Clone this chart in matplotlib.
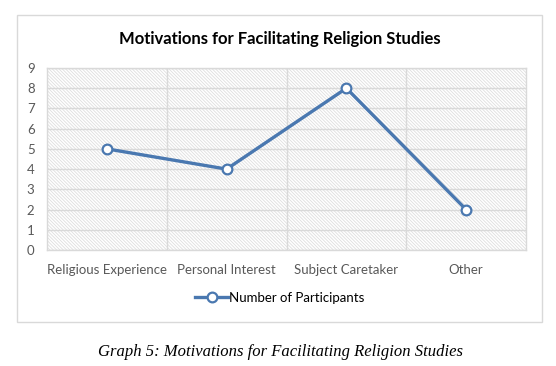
import matplotlib
matplotlib.use('Agg')
import matplotlib.pyplot as plt
from matplotlib.patches import Rectangle

categories = ['Religious Experience', 'Personal Interest', 'Subject Caretaker', 'Other']
participants = [5, 4, 8, 2]
y_ticks = list(range(0, 10))

BLUE = '#4a78b0'
GRID = '#d9d9d9'
TXT = '#595959'
plt.rcParams['font.family'] = ['Lato', 'DejaVu Sans']
plt.rcParams['hatch.color'] = '#dedede'
plt.rcParams['hatch.linewidth'] = 0.6

W, H = 556, 366
fig = plt.figure(figsize=(W / 100, H / 100), dpi=100)
fig.patch.set_facecolor('white')

# chart frame
fig.patches.append(Rectangle((17 / W, 1 - 322 / H), (542 - 17) / W, (322 - 15) / H,
                             transform=fig.transFigure, fill=False, edgecolor=GRID, linewidth=1.0))

ax = fig.add_axes([47 / W, 1 - 250 / H, (526 - 47) / W, (250 - 68) / H])
ax.add_patch(Rectangle((0, 0), 1, 1, transform=ax.transAxes, facecolor='white',
                       hatch='\\' * 10, edgecolor='#dedede', linewidth=0, zorder=0))

x = list(range(len(categories)))
ax.plot(x, participants, color=BLUE, linewidth=2.4, marker='o', markersize=7,
        markerfacecolor='white', markeredgecolor=BLUE, markeredgewidth=1.6, zorder=3,
        label='Number of Participants', clip_on=False)

ax.set_xlim(-0.5, len(categories) - 0.5)
ax.set_ylim(0, 9)
ax.set_yticks(y_ticks)
ax.set_yticklabels([str(v) for v in y_ticks], fontsize=9.5, color=TXT)
ax.set_xticks(x)
ax.set_xticklabels(categories, fontsize=9.5, color=TXT)
for b in [0.5, 1.5, 2.5]:
    ax.axvline(b, color=GRID, linewidth=1.0, zorder=1)
ax.grid(axis='y', color=GRID, linewidth=1.0, zorder=1)
ax.set_axisbelow(True)
ax.tick_params(axis='both', length=0)
ax.tick_params(axis='y', pad=9)
ax.tick_params(axis='x', pad=10)
for s in ax.spines.values():
    s.set_color(GRID)
    s.set_linewidth(1.0)

fig.text(280 / W, 1 - 39 / H, 'Motivations for Facilitating Religion Studies',
         ha='center', va='center', fontsize=12, fontweight='bold', color='black')

fig.legend(loc='center', bbox_to_anchor=(280 / W, 1 - 298 / H), frameon=False,
           fontsize=9.5, handlelength=2.5, handletextpad=0.1)

fig.text(280 / W, 1 - 352 / H, 'Graph 5: Motivations for Facilitating Religion Studies',
         ha='center', va='center', fontsize=12, style='italic',
         family=['Liberation Serif', 'DejaVu Serif'], color='black')

fig.savefig('out.png', dpi=100)
